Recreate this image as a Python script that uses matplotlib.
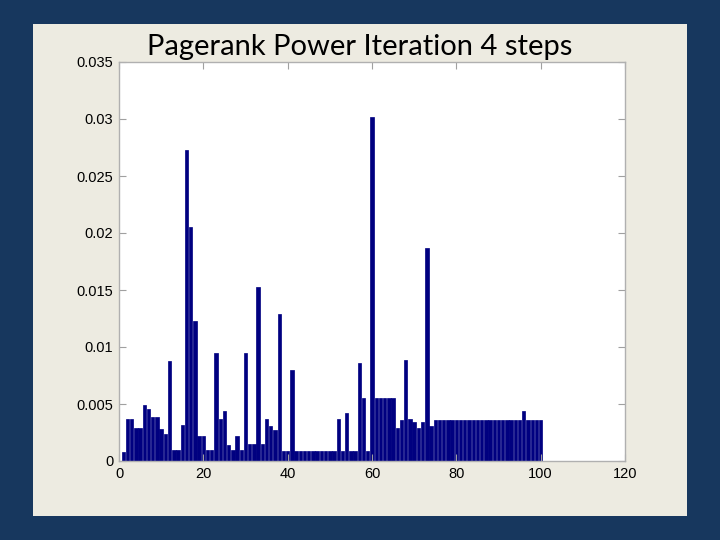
import matplotlib
matplotlib.use("Agg")
import matplotlib.pyplot as plt
import numpy as np

# pagerank after 4 power iteration steps, nodes 1..100
ranks = [
    0.0008, 0.0037, 0.0037, 0.0029, 0.0029, 0.0049, 0.0046, 0.0039, 0.0039, 0.0028,
    0.0024, 0.0088, 0.0010, 0.0010, 0.0032, 0.0273, 0.0205, 0.0123, 0.0022, 0.0022,
    0.0010, 0.0010, 0.0095, 0.0037, 0.0044, 0.0014, 0.0010, 0.0022, 0.0010, 0.0095,
    0.0015, 0.0015, 0.0153, 0.0015, 0.0037, 0.0031, 0.0027, 0.0129, 0.0009, 0.0009,
    0.0080, 0.0009, 0.0009, 0.0009, 0.0009, 0.0009, 0.0009, 0.0009, 0.0009, 0.0009,
    0.0009, 0.0037, 0.0009, 0.0042, 0.0009, 0.0009, 0.0086, 0.0055, 0.0009, 0.0302,
    0.0055, 0.0055, 0.0055, 0.0055, 0.0055, 0.0029, 0.0036, 0.0089, 0.0037, 0.0034,
    0.0029, 0.0034, 0.0187, 0.0031, 0.0036, 0.0036, 0.0036, 0.0036, 0.0036, 0.0036,
    0.0036, 0.0036, 0.0036, 0.0036, 0.0036, 0.0036, 0.0036, 0.0036, 0.0036, 0.0036,
    0.0036, 0.0036, 0.0036, 0.0036, 0.0036, 0.0044, 0.0036, 0.0036, 0.0036, 0.0036,
]
nodes = np.arange(1, len(ranks) + 1)

xticks = [0, 20, 40, 60, 80, 100, 120]
yticks = [0, 0.005, 0.01, 0.015, 0.02, 0.025, 0.03, 0.035]
ylabels = ['0', '0.005', '0.01', '0.015', '0.02', '0.025', '0.03', '0.035']

fig = plt.figure(figsize=(7.2, 5.4), dpi=100)
fig.patch.set_facecolor('#17375E')

# beige slide panel
panel = fig.add_axes([33/720, 1 - 516/540, 654/720, 492/540])
panel.set_facecolor('#EDEBE1')
panel.set_xticks([])
panel.set_yticks([])
for s in panel.spines.values():
    s.set_visible(False)

ax = fig.add_axes([119/720, 1 - 461/540, 506/720, 399/540])
ax.bar(nodes, ranks, width=0.8, color='#000080', edgecolor='#000080', linewidth=0.5)
ax.set_xlim(0, 120)
ax.set_ylim(0, 0.035)
ax.set_xticks(xticks)
ax.set_xticklabels([str(t) for t in xticks])
ax.set_yticks(yticks)
ax.set_yticklabels(ylabels)
ax.tick_params(direction='in', length=5, color='#A0A0A0', top=True, right=True,
               labelsize=10.5, pad=4)
for lab in ax.get_xticklabels() + ax.get_yticklabels():
    lab.set_fontfamily('Liberation Sans')
for s in ax.spines.values():
    s.set_color('#B0B0B0')
    s.set_linewidth(1)

fig.text(360/720, 1 - 47/540, 'Pagerank Power Iteration 4 steps',
         ha='center', va='center', fontsize=21, family='Lato', color='black')

fig.savefig('out.png', dpi=100, facecolor=fig.get_facecolor())
